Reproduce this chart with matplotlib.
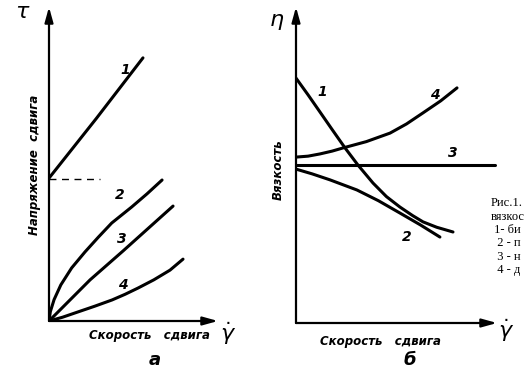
"""Кривые течения (а) и вязкости (б) для разных типов жидкостей."""

import matplotlib
matplotlib.use("Agg")
import matplotlib.pyplot as plt

# --- а: напряжение сдвига от скорости сдвига (условные единицы 0..10) ---
a1_x = [0.0, 2.8, 5.56]
a1_y = [4.55, 6.45, 8.38]
a_yield = 4.52            # предел текучести (пунктир)
a_yield_x = [0.0, 3.0]

a2_x = [0.0, 0.08, 0.3, 0.7, 1.34, 2.13, 2.92, 3.71, 4.89, 5.8, 6.69]
a2_y = [0.0, 0.3, 0.68, 1.15, 1.69, 2.2, 2.67, 3.12, 3.63, 4.05, 4.49]

a3_x = [0.0, 2.43, 4.38, 7.34]
a3_y = [0.0, 1.31, 2.23, 3.66]

a4_x = [0.0, 0.8, 1.72, 2.7, 3.73, 4.5, 5.27, 6.2, 7.16, 7.93]
a4_y = [0.0, 0.12, 0.29, 0.47, 0.67, 0.85, 1.05, 1.31, 1.62, 1.97]

a_labels = ["1", "2", "3", "4"]
a_label_x = [4.5, 4.2, 4.32, 4.38]
a_label_y = [8.0, 4.01, 2.61, 1.15]

# --- б: вязкость от скорости сдвига ---
b1_x = [0.0, 0.6, 1.19, 1.8, 2.44, 3.08, 3.83, 4.5, 5.17, 5.8, 6.32, 7.0, 7.81]
b1_y = [7.75, 7.22, 6.68, 6.12, 5.54, 5.0, 4.43, 4.0, 3.67, 3.4, 3.2, 3.03, 2.88]

b2_x = [0.0, 0.8, 1.69, 3.03, 4.1, 5.17, 6.2, 7.16]
b2_y = [4.87, 4.72, 4.53, 4.21, 3.87, 3.48, 3.1, 2.72]

b3_x = [0.0, 9.9]
b3_y = [5.0, 5.0]

b4_x = [0.0, 0.6, 1.19, 1.8, 2.34, 3.5, 4.68, 5.5, 6.32, 7.2, 8.01]
b4_y = [5.25, 5.28, 5.35, 5.44, 5.54, 5.74, 6.01, 6.3, 6.65, 7.03, 7.44]

b_labels = ["1", "2", "3", "4"]
b_label_x = [1.29, 5.52, 7.81, 6.92]
b_label_y = [7.31, 2.72, 5.38, 7.22]

# подпись рисунка обрезана краем листа — видимые части
caption = ["Рис.1.", "вязкос", " 1- би", "  2 - п", "  3 - н", "  4 - д"]

W, H = 524, 371
HAND = dict(family="DejaVu Sans", style="italic", weight="bold")


def px(x, y):
    """Пиксели картинки -> доли фигуры."""
    return x / W, 1 - y / H


def arrow_axes(ax):
    """Оси со стрелками вместо рамки."""
    for s in ax.spines.values():
        s.set_visible(False)
    ax.set_xticks([])
    ax.set_yticks([])
    ax.set_xlim(0, 10)
    ax.set_ylim(0, 10)
    ax.patch.set_alpha(0)
    kw = dict(arrowstyle="-|>,head_length=0.9,head_width=0.25",
              lw=1.6, color="black", shrinkA=0, shrinkB=0)
    ax.annotate("", xy=(1, 0), xytext=(0, 0), xycoords="axes fraction",
                arrowprops=kw)
    ax.annotate("", xy=(0, 1), xytext=(0, 0), xycoords="axes fraction",
                arrowprops=kw)


def curve(ax, x, y):
    ax.plot(x, y, color="black", lw=2.2, solid_capstyle="round",
            solid_joinstyle="round")


fig = plt.figure(figsize=(W / 100, H / 100), dpi=100)

# панель а: начало (49, 321), конец оси x 218, верх оси y 7
ax_a = fig.add_axes([49 / W, (H - 321) / H, 169 / W, 314 / H])
arrow_axes(ax_a)
curve(ax_a, a1_x, a1_y)
ax_a.plot(a_yield_x, [a_yield, a_yield], color="black", lw=1.0,
          ls=(0, (5, 4)))
curve(ax_a, a2_x, a2_y)
curve(ax_a, a3_x, a3_y)
curve(ax_a, a4_x, a4_y)
for t, x, y in zip(a_labels, a_label_x, a_label_y):
    ax_a.text(x, y, t, ha="center", va="center", fontsize=10, **HAND)

# панель б: начало (296, 323), конец оси x 497, верх оси y 7
ax_b = fig.add_axes([296 / W, (H - 323) / H, 201 / W, 316 / H])
arrow_axes(ax_b)
curve(ax_b, b1_x, b1_y)
curve(ax_b, b2_x, b2_y)
curve(ax_b, b3_x, b3_y)
curve(ax_b, b4_x, b4_y)
for t, x, y in zip(b_labels, b_label_x, b_label_y):
    ax_b.text(x, y, t, ha="center", va="center", fontsize=10, **HAND)

# подписи осей
fig.text(*px(23, 12), r"$\tau$", fontsize=16, ha="center", va="center")
fig.text(*px(35, 165), "Напряжение  сдвига", rotation=90, fontsize=8.5,
         ha="center", va="center", **HAND)
fig.text(*px(149, 336), "Скорость   сдвига", fontsize=8.5,
         ha="center", va="center", **HAND)
fig.text(*px(228, 334), r"$\dot{\gamma}$", fontsize=16,
         ha="center", va="center")
fig.text(*px(155, 360), "а", fontsize=13, ha="center", va="center", **HAND)

fig.text(*px(277, 22), r"$\eta$", fontsize=16, ha="center", va="center")
fig.text(*px(278, 170), "Вязкость", rotation=90, fontsize=8.5,
         ha="center", va="center", **HAND)
fig.text(*px(380, 342), "Скорость   сдвига", fontsize=8.5,
         ha="center", va="center", **HAND)
fig.text(*px(506, 331), r"$\dot{\gamma}$", fontsize=16,
         ha="center", va="center")
fig.text(*px(410, 360), "б", fontsize=13, ha="center", va="center", **HAND)

row_y = [203, 216.5, 230, 243.5, 257, 270.5]
for line, y in zip(caption, row_y):
    fig.text(*px(491, y), line, fontsize=9, family="Liberation Serif",
             ha="left", va="center")

fig.savefig("out.png", dpi=100)
